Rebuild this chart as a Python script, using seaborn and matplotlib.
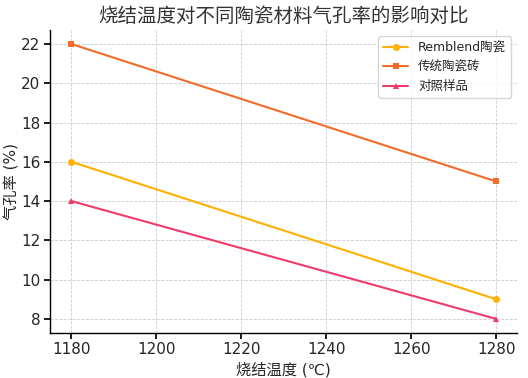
import numpy as np
import pandas as pd
import matplotlib.pyplot as plt
import seaborn as sns

temps = [1180, 1280]
remblend = [16, 9]
traditional = [22, 15]
control = [14, 8]
series_names = ['Remblend陶瓷', '传统陶瓷砖', '对照样品']

df = pd.DataFrame({
    '烧结温度': temps * 3,
    '气孔率': remblend + traditional + control,
    '材料': [series_names[0]] * 2 + [series_names[1]] * 2 + [series_names[2]] * 2,
})

sns.set_theme(style='whitegrid')
plt.rcParams['font.family'] = ['DejaVu Sans', 'Noto Sans CJK SC']
plt.rcParams['axes.unicode_minus'] = False

fig, ax = plt.subplots(figsize=(5.28, 3.78), dpi=100)
palette = ['#FFB000', '#F26B2A', '#EE3B6B']
markers = ['o', 's', '^']
for name, color, m in zip(series_names, palette, markers):
    d = df[df['材料'] == name]
    sns.lineplot(data=d, x='烧结温度', y='气孔率', ax=ax, color=color, marker=m,
                 markersize=5, markeredgewidth=0, linewidth=1.5, label=name)

ax.set_title('烧结温度对不同陶瓷材料气孔率的影响对比', fontsize=14, color='#333333')
ax.set_xlabel('烧结温度 (℃)', fontsize=11, labelpad=3)
ax.set_ylabel('气孔率 (%)', fontsize=11, labelpad=1)
ax.set_xticks([1180, 1200, 1220, 1240, 1260, 1280])
ax.set_yticks([8, 10, 12, 14, 16, 18, 20, 22])
ax.set_xlim(1175, 1285)
ax.set_ylim(7.3, 22.7)
ax.tick_params(labelsize=11, length=4, color='black', left=True, bottom=True, pad=3)
ax.set_facecolor('white')
ax.grid(True, linestyle='--', linewidth=0.6, color='#cccccc')
for s in ['top', 'right']:
    ax.spines[s].set_visible(False)
for s in ['left', 'bottom']:
    ax.spines[s].set_color('black')
    ax.spines[s].set_linewidth(1)
ax.legend(loc='upper right', fontsize=9, frameon=True)
fig.subplots_adjust(left=0.095, right=0.98, top=0.92, bottom=0.12)
fig.savefig('out.png', dpi=100)
